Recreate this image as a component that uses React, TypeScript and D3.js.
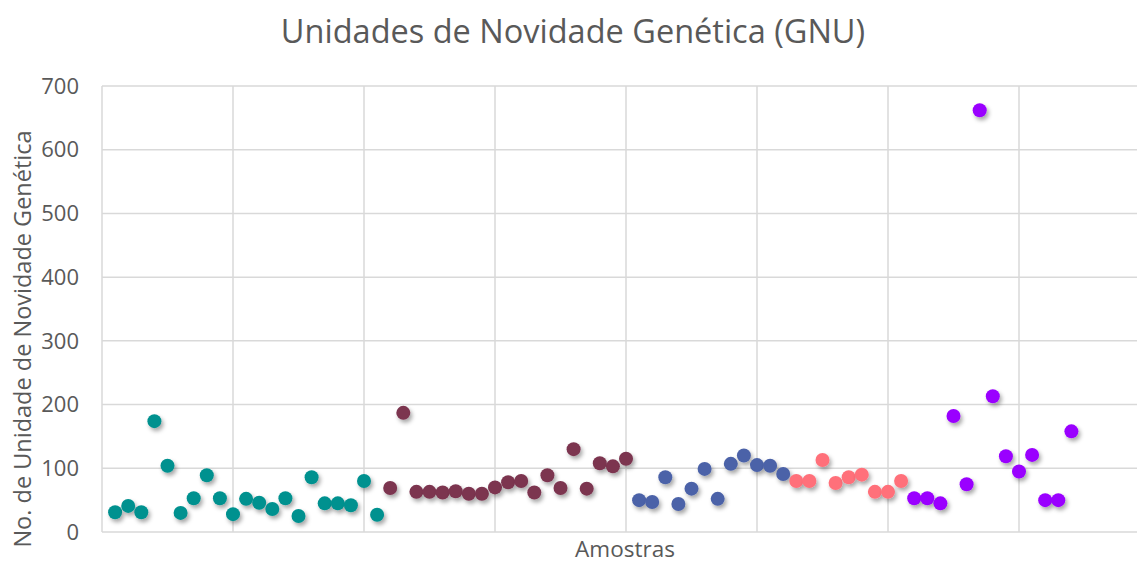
import React from 'react';
import * as d3 from 'd3';

// amostras by group (x = sample index)
const tealValues = [31, 41, 31, 174, 104, 30, 53, 89, 53, 28, 52, 46, 36, 53, 25, 86, 45, 45, 42, 80, 27];
const maroonValues = [69, 187, 63, 63, 62, 64, 60, 60, 70, 78, 80, 62, 89, 69, 130, 68, 108, 103, 115];
const blueValues = [50, 47, 86, 44, 68, 99, 52, 107, 120, 105, 104, 91];
const pinkValues = [80, 80, 113, 77, 86, 90, 63, 63, 80];
const purpleValues = [53, 53, 45, 182, 75, 662, 213, 119, 95, 121, 50, 50, 158];

const groups = [
  { name: 'teal', color: '#00918F', values: tealValues },
  { name: 'maroon', color: '#7B344F', values: maroonValues },
  { name: 'blue', color: '#4B62A8', values: blueValues },
  { name: 'pink', color: '#FF707A', values: pinkValues },
  { name: 'purple', color: '#9A00FF', values: purpleValues },
];

const yTicks = [0, 100, 200, 300, 400, 500, 600, 700];
const xTicks = [0, 10, 20, 30, 40, 50, 60, 70, 80];

const App = () => {
  const width = 1137;
  const height = 563;
  const margin = { top: 86, bottom: 31, left: 102, right: -13 };
  const chartWidth = width - margin.left - margin.right;
  const chartHeight = height - margin.top - margin.bottom;

  // flatten groups into points with running sample index
  let idx = 0;
  const points = groups.flatMap(g => g.values.map(v => {
    idx += 1;
    return { x: idx, y: v, color: g.color };
  }));

  const xScale = d3.scaleLinear().domain([0, 80]).range([0, chartWidth]);
  const yScale = d3.scaleLinear().domain([0, 700]).range([chartHeight, 0]);

  const font = 'Open Sans, sans-serif';
  const textColor = '#595959';

  return (
    <svg width={width} height={height} style={{ position: 'absolute', left: 0, top: 0, background: '#fff' }}>
      <defs>
        <filter id="shadow" x="-50%" y="-50%" width="200%" height="200%">
          <feDropShadow dx="2" dy="3" stdDeviation="2" floodColor="#000" floodOpacity="0.35" />
        </filter>
      </defs>
      <text x={573} y={43} textAnchor="middle" fontFamily={font} fontSize={32.5} fill={textColor}>
        Unidades de Novidade Genética (GNU)
      </text>
      <g transform={`translate(${margin.left}, ${margin.top})`}>
        {yTicks.map(t =>
          <line key={`gy-${t}`} x1={0} x2={chartWidth} y1={yScale(t)} y2={yScale(t)} stroke='#D9D9D9' strokeWidth={1.5} />
        )}
        {xTicks.map(t =>
          <line key={`gx-${t}`} x1={xScale(t)} x2={xScale(t)} y1={0} y2={chartHeight} stroke='#D9D9D9' strokeWidth={1.5} />
        )}
        {yTicks.map(t =>
          <text key={`ty-${t}`} x={-23} y={yScale(t)} dy='0.35em' textAnchor='end' fontFamily={font} fontSize={22} fill={textColor}>{t}</text>
        )}
        {points.map((d, i) =>
          <circle key={`p-${i}`} cx={xScale(d.x)} cy={yScale(d.y)} r={7} fill={d.color} filter="url(#shadow)" />
        )}
      </g>
      <text x={625} y={557} textAnchor="middle" fontFamily={font} fontSize={22.5} fill={textColor}>Amostras</text>
      <text transform={`translate(31, 339) rotate(-90)`} textAnchor="middle" fontFamily={font} fontSize={23.5} fill={textColor}>
        No. de Unidade de Novidade Genética
      </text>
    </svg>
  );
};

export default App;
